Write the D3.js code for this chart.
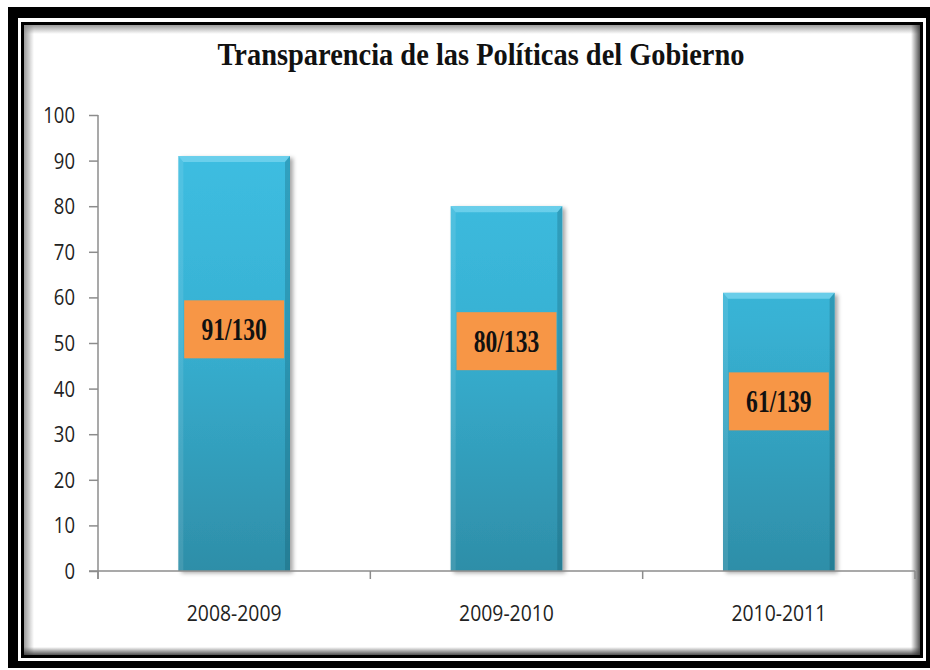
<!DOCTYPE html>
<html lang="es">
<head>
<meta charset="UTF-8">
<title>Transparencia de las Políticas del Gobierno</title>
<script src="https://d3js.org/d3.v7.min.js"></script>
<style>
  body { margin: 0; background: #fff; }
  svg { display: block; }
</style>
</head>
<body>
<svg width="930" height="670"></svg>
<script>
  const periods = ["2008-2009", "2009-2010", "2010-2011"];
  const values = [91, 80, 61];
  const labels = ["91/130", "80/133", "61/139"];
  // where the orange boxes sit, in value units
  const labelAt = [53, 50.4, 37.2];
  const yTicks = [0, 10, 20, 30, 40, 50, 60, 70, 80, 90, 100];

  const svg = d3.select("svg");
  const defs = svg.append("defs");

  // squeeze text horizontally, the original looks narrow
  function squeeze(sel, f) {
    sel.each(function () {
      const len = this.getComputedTextLength();
      d3.select(this).attr("textLength", len * f).attr("lengthAdjust", "spacingAndGlyphs");
    });
  }

  // frame
  svg.append("rect").attr("x", 8).attr("y", 7).attr("width", 930).attr("height", 661).attr("fill", "#000");
  svg.append("rect").attr("x", 18).attr("y", 18).attr("width", 908).attr("height", 643).attr("fill", "#fff");
  svg.append("rect").attr("x", 21).attr("y", 22).attr("width", 902).attr("height", 636).attr("fill", "#000");
  svg.append("rect").attr("x", 24).attr("y", 25).attr("width", 896).attr("height", 630).attr("fill", "#fff");

  function edgeGrad(id, x1, y1, x2, y2, c) {
    const g = defs.append("linearGradient").attr("id", id)
      .attr("x1", x1).attr("y1", y1).attr("x2", x2).attr("y2", y2);
    g.append("stop").attr("offset", 0).attr("stop-color", c).attr("stop-opacity", 0.85);
    g.append("stop").attr("offset", 1).attr("stop-color", c).attr("stop-opacity", 0);
  }
  edgeGrad("gl", 0, 0, 1, 0, "#8a8a8a");
  edgeGrad("gt", 0, 0, 0, 1, "#8a8a8a");
  edgeGrad("gr", 1, 0, 0, 0, "#333");
  edgeGrad("gb", 0, 1, 0, 0, "#333");
  svg.append("rect").attr("x", 24).attr("y", 25).attr("width", 10).attr("height", 630).attr("fill", "url(#gl)");
  svg.append("rect").attr("x", 24).attr("y", 25).attr("width", 896).attr("height", 9).attr("fill", "url(#gt)");
  svg.append("rect").attr("x", 911).attr("y", 25).attr("width", 9).attr("height", 630).attr("fill", "url(#gr)");
  svg.append("rect").attr("x", 24).attr("y", 647).attr("width", 896).attr("height", 8).attr("fill", "url(#gb)");

  // title
  svg.append("text")
    .attr("x", 481).attr("y", 65)
    .attr("text-anchor", "middle")
    .attr("font-family", "Liberation Serif, DejaVu Serif, serif")
    .attr("font-weight", "bold")
    .attr("font-size", 31)
    .attr("fill", "#111")
    .attr("textLength", 527).attr("lengthAdjust", "spacingAndGlyphs")
    .text("Transparencia de las Políticas del Gobierno");

  const x = d3.scaleBand().domain(periods).range([98, 915]).paddingInner(0.59).paddingOuter(0.295);
  const xCat = d3.scaleBand().domain(periods).range([98, 915]);
  const y = d3.scaleLinear().domain([0, 100]).range([571, 115]);

  // bar look
  const bg = defs.append("linearGradient").attr("id", "barg")
    .attr("gradientUnits", "userSpaceOnUse")
    .attr("x1", 0).attr("y1", y(100)).attr("x2", 0).attr("y2", y(0));
  bg.append("stop").attr("offset", 0).attr("stop-color", "#3ec0e4");
  bg.append("stop").attr("offset", 0.45).attr("stop-color", "#38b2d4");
  bg.append("stop").attr("offset", 1).attr("stop-color", "#2e8ea8");
  const sh = defs.append("filter").attr("id", "shadow").attr("x", "-10%").attr("y", "-10%").attr("width", "130%").attr("height", "120%");
  sh.append("feDropShadow").attr("dx", 3).attr("dy", 2).attr("stdDeviation", 2)
    .attr("flood-color", "#000").attr("flood-opacity", 0.35);

  // axes
  const axisColor = "#8c8c8c";
  const yAxis = svg.append("g")
    .attr("transform", "translate(98,0)")
    .call(d3.axisLeft(y).tickValues(yTicks).tickSize(9).tickSizeOuter(0).tickPadding(14));
  yAxis.select(".domain").remove();
  yAxis.selectAll("line").attr("stroke", axisColor).attr("stroke-width", 1.5);
  yAxis.selectAll("text")
    .attr("font-family", "Open Sans, Noto Sans, sans-serif")
    .attr("font-size", 21).attr("fill", "#222").attr("dy", "0.36em");
  squeeze(yAxis.selectAll("text"), 0.88);
  svg.append("line").attr("x1", 98).attr("x2", 98).attr("y1", y(100)).attr("y2", y(0) + 8)
    .attr("stroke", axisColor).attr("stroke-width", 1.5);

  const bars = svg.append("g");
  periods.forEach((p, i) => {
    const x0 = x(p), w = x.bandwidth(), y0 = y(values[i]), h = y(0) - y(values[i]);
    const g = bars.append("g");
    g.append("rect").attr("x", x0).attr("y", y0).attr("width", w).attr("height", h)
      .attr("fill", "url(#barg)").attr("filter", "url(#shadow)");
    // bevel
    g.append("path")
      .attr("d", `M${x0},${y0}H${x0 + w}L${x0 + w - 5},${y0 + 6}H${x0 + 5}Z`)
      .attr("fill", "#7ad6ef").attr("opacity", 0.75);
    g.append("path")
      .attr("d", `M${x0},${y0}L${x0 + 5},${y0 + 6}V${y0 + h}H${x0}Z`)
      .attr("fill", "#fff").attr("opacity", 0.1);
    g.append("path")
      .attr("d", `M${x0 + w},${y0}L${x0 + w - 5},${y0 + 6}V${y0 + h}H${x0 + w}Z`)
      .attr("fill", "#0b4a5c").attr("opacity", 0.25);
  });

  svg.append("line").attr("x1", 89).attr("x2", 915).attr("y1", y(0)).attr("y2", y(0))
    .attr("stroke", axisColor).attr("stroke-width", 1.5);
  const bounds = periods.map(p => xCat(p)).concat([xCat(periods[periods.length - 1]) + xCat.bandwidth()]);
  svg.selectAll("line.xt").data(bounds).enter().append("line").attr("class", "xt")
    .attr("x1", d => d).attr("x2", d => d).attr("y1", y(0)).attr("y2", y(0) + 8)
    .attr("stroke", axisColor).attr("stroke-width", 1.5);

  const xAxis = svg.append("g")
    .attr("transform", `translate(0,${y(0)})`)
    .call(d3.axisBottom(xCat).tickSize(0).tickPadding(34));
  xAxis.select(".domain").remove();
  xAxis.selectAll("text")
    .attr("font-family", "Open Sans, Noto Sans, sans-serif")
    .attr("font-size", 22).attr("fill", "#222");
  squeeze(xAxis.selectAll("text"), 0.88);

  // orange value boxes
  const boxH = 58;
  const lab = svg.append("g");
  periods.forEach((p, i) => {
    const cx = x(p) + x.bandwidth() / 2, cy = y(labelAt[i]);
    lab.append("rect").attr("x", cx - 50).attr("y", cy - boxH / 2).attr("width", 100).attr("height", boxH)
      .attr("fill", "#f79646");
    lab.append("text").attr("class", "vl")
      .attr("x", cx).attr("y", cy + 11)
      .attr("text-anchor", "middle")
      .attr("font-family", "Liberation Serif, DejaVu Serif, serif")
      .attr("font-weight", "bold").attr("font-size", 31).attr("fill", "#111")
      .text(labels[i]);
  });
  squeeze(lab.selectAll("text.vl"), 0.76);
</script>
</body>
</html>
